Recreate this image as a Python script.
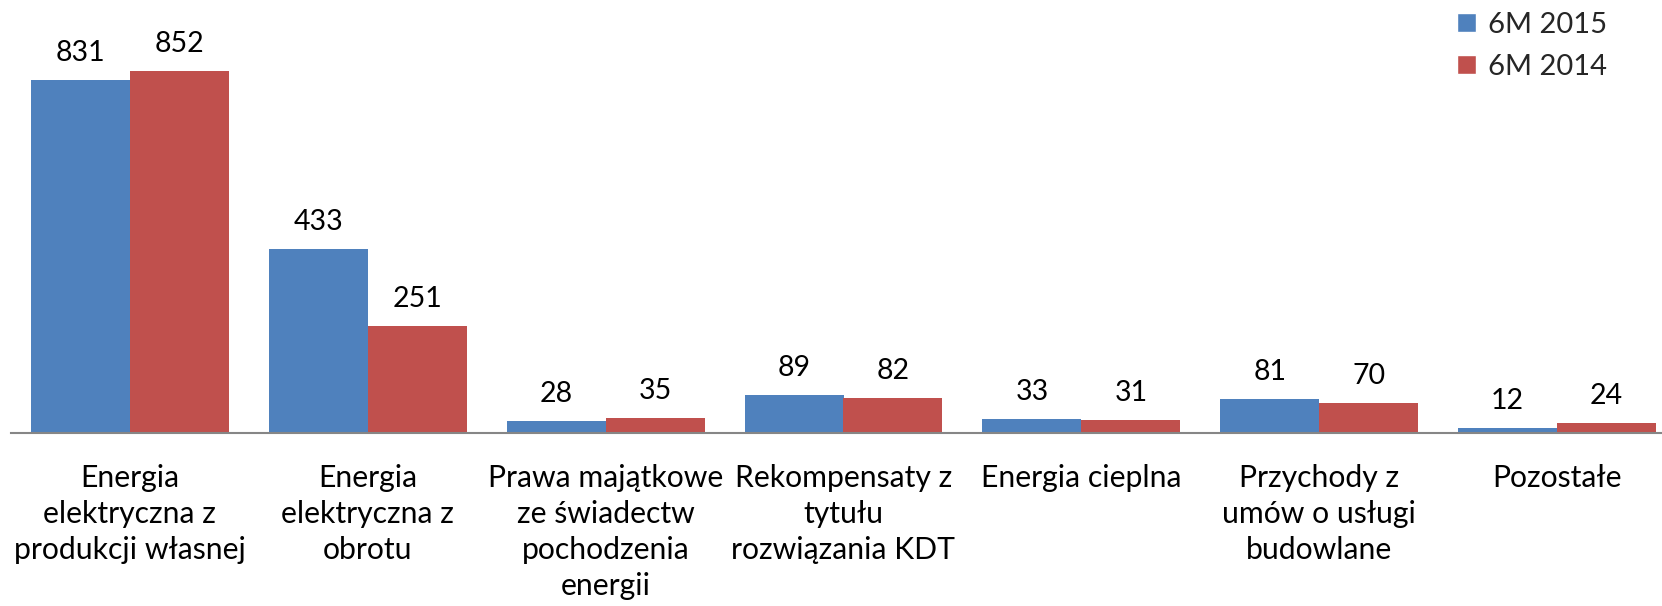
import pandas as pd, numpy as np, seaborn as sns
import matplotlib.pyplot as plt
from matplotlib.patches import Patch
from matplotlib.ticker import FixedLocator

categories = [
    "Energia\nelektryczna z\nprodukcji własnej",
    "Energia\nelektryczna z\nobrotu",
    "Prawa majątkowe\nze świadectw\npochodzenia\nenergii",
    "Rekompensaty z\ntytułu\nrozwiązania KDT",
    "Energia cieplna",
    "Przychody z\numów o usługi\nbudowlane",
    "Pozostałe",
]
series_names = ["6M 2015", "6M 2014"]
values_2015 = [831, 433, 28, 89, 33, 81, 12]
values_2014 = [852, 251, 35, 82, 31, 70, 24]

df = pd.DataFrame({
    "kategoria": categories * 2,
    "okres": [series_names[0]] * len(categories) + [series_names[1]] * len(categories),
    "wartosc": values_2015 + values_2014,
})

sns.set_style("white")
plt.rcParams['font.family'] = ['Lato', 'DejaVu Sans']

blue = "#4F81BD"
red = "#C0504D"
gray = "#868686"

fig = plt.figure(figsize=(16.62, 6.06), dpi=100)
ax = fig.add_axes([11 / 1662, 1 - 433 / 606, 1665 / 1662, 425 / 606])

sns.barplot(data=df, x="kategoria", y="wartosc", hue="okres",
            palette=[blue, red], width=0.832, gap=0, saturation=1,
            edgecolor="none", ax=ax, legend=False)

ax.set_ylim(0, 1000)
ax.set_xlim(-0.5, len(categories) - 0.5)

for c in ax.containers:
    ax.bar_label(c, padding=10, fontsize=20.5, color="black")

sns.despine(ax=ax, left=True, top=True, right=True)
ax.spines['bottom'].set_color(gray)
ax.spines['bottom'].set_linewidth(1.5)
ax.set_yticks([])
ax.set_xlabel("")
ax.set_ylabel("")
ax.tick_params(axis='x', which='major', length=0, pad=22, labelsize=21.7, labelcolor="black")
for lbl in ax.get_xticklabels():
    lbl.set_linespacing(1.35)
ax.xaxis.set_minor_locator(FixedLocator(np.arange(-0.5, len(categories), 1)))
ax.tick_params(axis='x', which='minor', length=10, width=1.5, color=gray, direction='out')

handles = [Patch(facecolor=blue), Patch(facecolor=red)]
fig.legend(handles, series_names, loc='upper left',
           bbox_to_anchor=(1437 / 1662, 1.014), frameon=False, fontsize=21,
           handlelength=0.65, handleheight=0.65, handletextpad=0.4,
           labelspacing=0.55, borderpad=0.2)

fig.savefig("out.png", dpi=100)
